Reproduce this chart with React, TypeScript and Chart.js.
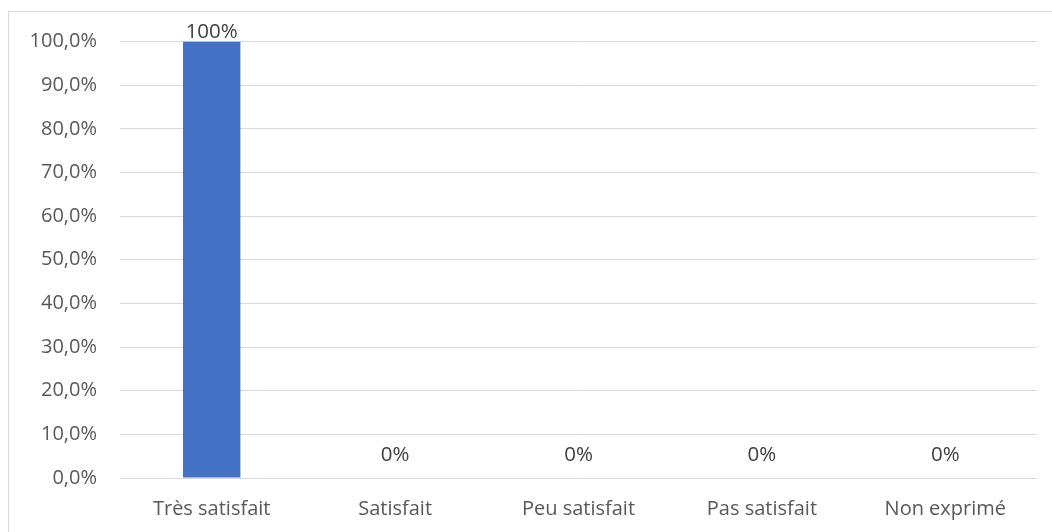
import React, { useEffect, useRef } from "react";
import { Chart, registerables } from "chart.js";

Chart.register(...registerables);

const categories = ["Très satisfait", "Satisfait", "Peu satisfait", "Pas satisfait", "Non exprimé"];
const values = [100, 0, 0, 0, 0];
const valueLabels = ["100%", "0%", "0%", "0%", "0%"];

const FONT = "'Open Sans', sans-serif";

const labelPlugin = {
  id: "barLabels",
  afterDatasetsDraw(chart: any) {
    const ctx = chart.ctx;
    const meta = chart.getDatasetMeta(0);
    const yScale = chart.scales.y;
    ctx.save();
    ctx.font = `20.5px ${FONT}`;
    ctx.fillStyle = "#404040";
    ctx.textAlign = "center";
    ctx.textBaseline = "middle";
    meta.data.forEach((bar: any, i: number) => {
      const v = values[i];
      const y = v === 0 ? yScale.getPixelForValue(0) - 23 : bar.y - 9.5;
      ctx.fillText(valueLabels[i], bar.x, y);
    });
    ctx.restore();
  },
};

export default function App() {
  const ref = useRef<HTMLCanvasElement>(null);
  useEffect(() => {
    if (!ref.current) return;
    const chart = new Chart(ref.current, {
      type: "bar",
      data: {
        labels: categories,
        datasets: [
          {
            data: values,
            backgroundColor: "#4472C4",
            barPercentage: 1,
            categoryPercentage: 0.313,
          },
        ],
      },
      options: {
        animation: false,
        responsive: false,
        devicePixelRatio: 1,
        layout: { padding: { top: 41.5, right: 15, left: 0, bottom: 0 } },
        plugins: { legend: { display: false }, tooltip: { enabled: false } },
        scales: {
          x: {
            grid: { display: false, drawTicks: false },
            border: { display: false },
            ticks: { color: "#595959", font: { family: FONT, size: 20 }, padding: 19, maxRotation: 0 },
            afterFit: (s: any) => {
              s.height = 54;
            },
          },
          y: {
            min: 0,
            max: 100,
            grid: { color: "#d9d9d9", lineWidth: 1, drawTicks: false },
            border: { display: false },
            ticks: {
              stepSize: 10,
              color: "#595959",
              font: { family: FONT, size: 20 },
              padding: 23,
              callback: (v: any) => Number(v).toFixed(1).replace(".", ",") + "%",
            },
            afterFit: (s: any) => {
              s.width = 120;
            },
          },
        },
      },
      plugins: [labelPlugin],
    });
    return () => chart.destroy();
  }, []);
  return (
    <div style={{ position: "fixed", left: 0, top: 0, width: 1052, height: 532, overflow: "hidden", background: "#fff" }}>
      <div
        style={{
          position: "absolute",
          left: 8,
          top: 11,
          width: 1200,
          height: 800,
          border: "1px solid #d9d9d9",
        }}
      />
      <canvas ref={ref} width={1052} height={532} style={{ position: "absolute", left: 0, top: 0 }} />
    </div>
  );
}
